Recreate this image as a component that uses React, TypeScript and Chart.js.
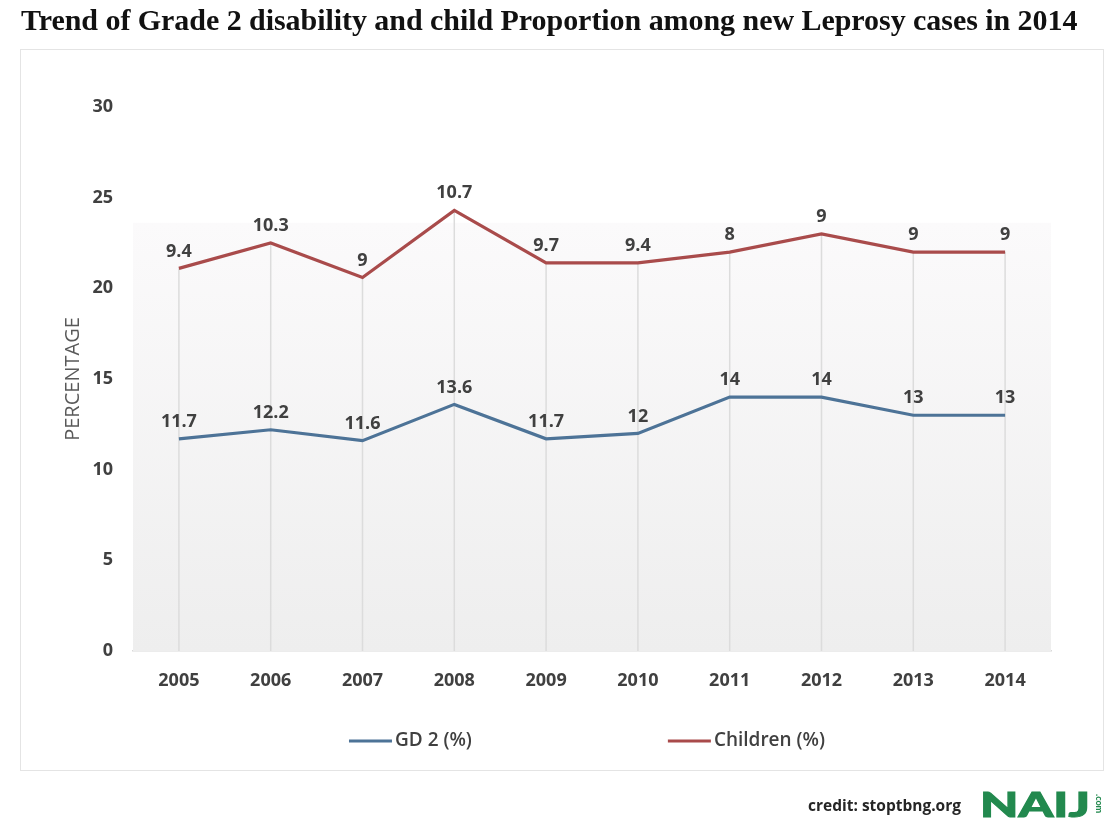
import React, { useEffect, useRef } from "react";
import { Chart, registerables } from "chart.js";

Chart.register(...registerables);

const TITLE = "Trend of Grade 2 disability and child Proportion among new Leprosy cases in 2014";
const years = ["2005", "2006", "2007", "2008", "2009", "2010", "2011", "2012", "2013", "2014"];
const gd2 = [11.7, 12.2, 11.6, 13.6, 11.7, 12, 14, 14, 13, 13];
const children = [9.4, 10.3, 9, 10.7, 9.7, 9.4, 8, 9, 9, 9];
const seriesNames = ["GD 2 (%)", "Children (%)"];
const yTicksMin = 0;
const yTicksMax = 30;
const yStep = 5;

const BLUE = "#4d7397";
const RED = "#a94b4b";
const TEXT = "#404040";
const FONT = "'Open Sans', 'DejaVu Sans', sans-serif";

const bgPlugin = {
  id: "bgPlugin",
  beforeDatasetsDraw(chart: any) {
    const { ctx, chartArea } = chart;
    const { left, right, top, bottom } = chartArea;
    const t = top + (bottom - top) * 0.213;
    ctx.save();
    const g = ctx.createLinearGradient(0, t, 0, bottom);
    g.addColorStop(0, "#fbfafb");
    g.addColorStop(1, "#eeeeee");
    ctx.fillStyle = g;
    ctx.fillRect(left, t, right - left, bottom - t);
    const last = chart.getDatasetMeta(chart.data.datasets.length - 1);
    ctx.strokeStyle = "#dcdcdc";
    ctx.lineWidth = 1.5;
    last.data.forEach((pt: any) => {
      ctx.beginPath();
      ctx.moveTo(pt.x, pt.y);
      ctx.lineTo(pt.x, bottom);
      ctx.stroke();
    });
    ctx.restore();
  },
};

const labelPlugin = {
  id: "labelPlugin",
  afterDatasetsDraw(chart: any) {
    const { ctx } = chart;
    ctx.save();
    ctx.font = `bold 18px ${FONT}`;
    ctx.fillStyle = TEXT;
    ctx.textAlign = "center";
    ctx.textBaseline = "bottom";
    chart.data.datasets.forEach((ds: any, di: number) => {
      const meta = chart.getDatasetMeta(di);
      meta.data.forEach((pt: any, i: number) => {
        ctx.fillText(String(ds.data[i]), pt.x, pt.y - 8);
      });
    });
    ctx.restore();
  },
};

const legendPlugin = {
  id: "legendPlugin",
  afterDraw(chart: any) {
    const { ctx, chartArea } = chart;
    ctx.save();
    ctx.font = `600 19px ${FONT}`;
    ctx.textBaseline = "middle";
    const lineLen = 43;
    const gap = 3;
    const between = 196;
    const items = chart.data.datasets.map((ds: any) => ({
      label: ds.label,
      color: ds.borderColor,
      w: lineLen + gap + ctx.measureText(ds.label).width,
    }));
    const total = items.reduce((s: number, it: any) => s + it.w, 0) + between * (items.length - 1);
    let x = (chartArea.left + chartArea.right) / 2 - 5 - total / 2;
    const y = chartArea.bottom + 90;
    items.forEach((it: any) => {
      ctx.strokeStyle = it.color;
      ctx.lineWidth = 3;
      ctx.beginPath();
      ctx.moveTo(x, y);
      ctx.lineTo(x + lineLen, y);
      ctx.stroke();
      ctx.fillStyle = TEXT;
      ctx.textAlign = "left";
      ctx.fillText(it.label, x + lineLen + gap, y);
      x += it.w + between;
    });
    ctx.restore();
  },
};

export default function App() {
  const ref = useRef<HTMLCanvasElement | null>(null);

  useEffect(() => {
    if (!ref.current) return;
    const chart = new Chart(ref.current, {
      type: "line",
      data: {
        labels: years,
        datasets: [
          {
            label: seriesNames[0],
            data: gd2,
            borderColor: BLUE,
            backgroundColor: BLUE,
            borderWidth: 3.2,
            pointRadius: 0,
            fill: false,
            tension: 0,
          },
          {
            label: seriesNames[1],
            data: children,
            borderColor: RED,
            backgroundColor: RED,
            borderWidth: 3.2,
            pointRadius: 0,
            fill: false,
            tension: 0,
          },
        ],
      },
      options: {
        responsive: false,
        animation: false,
        layout: { padding: { left: 60, top: 107, right: 69, bottom: 129 } },
        plugins: {
          legend: { display: false },
          title: { display: false },
          tooltip: { enabled: false },
        },
        scales: {
          x: {
            offset: true,
            grid: { display: false, drawTicks: false },
            border: { display: true, color: "#d9d9d9", width: 1.5 },
            ticks: { color: TEXT, font: { family: FONT, size: 18, weight: "bold" }, padding: 19 },
            afterFit(scale: any) {
              scale.height = 60;
            },
          },
          y: {
            stacked: true,
            min: yTicksMin,
            max: yTicksMax,
            grid: { display: false, drawTicks: false },
            border: { display: false },
            ticks: { stepSize: yStep, color: TEXT, font: { family: FONT, size: 18, weight: "bold" }, padding: 20 },
            title: {
              display: true,
              text: "PERCENTAGE",
              color: "#595959",
              font: { family: FONT, size: 20 },
              padding: { top: 1, bottom: 0 },
            },
            afterFit(scale: any) {
              scale.width = 73;
            },
          },
        },
      },
      plugins: [bgPlugin, labelPlugin, legendPlugin],
    } as any);
    return () => chart.destroy();
  }, []);

  return (
    <div
      style={{
        position: "fixed",
        left: 0,
        top: 0,
        width: 1120,
        height: 840,
        background: "#ffffff",
        overflow: "hidden",
      }}
    >
      <div
        style={{
          position: "absolute",
          left: 20,
          top: 49,
          width: 1084,
          height: 722,
          border: "1.5px solid #e4e4e4",
          boxSizing: "border-box",
        }}
      />
      <canvas
        ref={ref}
        width={1120}
        height={840}
        style={{ position: "absolute", left: 0, top: 0, width: 1120, height: 840 }}
      />
      <div
        style={{
          position: "absolute",
          left: 21,
          top: 3,
          fontFamily: "'Liberation Serif', 'DejaVu Serif', serif",
          fontWeight: "bold",
          fontSize: 30,
          color: "#111",
          whiteSpace: "nowrap",
          letterSpacing: -0.05,
        }}
      >
        {TITLE}
      </div>
      <div
        style={{
          position: "absolute",
          left: 808,
          top: 794,
          fontFamily: FONT,
          fontWeight: "bold",
          fontSize: 15.5,
          color: "#262626",
          whiteSpace: "nowrap",
        }}
      >
        credit: stoptbng.org
      </div>
      <div
        style={{
          position: "absolute",
          left: 980,
          top: 783,
          fontFamily: "Lato, Inter, 'Open Sans', sans-serif",
          fontWeight: 900,
          fontSize: 35,
          color: "#22894e",
          whiteSpace: "nowrap",
          transform: "scaleX(1.42)",
          transformOrigin: "left top",
          lineHeight: "40px",
          WebkitTextStroke: "1px #22894e",
        }}
      >
        NAIJ
      </div>
      <div
        style={{
          position: "absolute",
          left: 1093,
          top: 794,
          fontFamily: "Lato, Inter, sans-serif",
          fontWeight: 900,
          fontSize: 9,
          color: "#22894e",
          writingMode: "vertical-rl",
          lineHeight: "12px",
        }}
      >
        .com
      </div>
    </div>
  );
}
